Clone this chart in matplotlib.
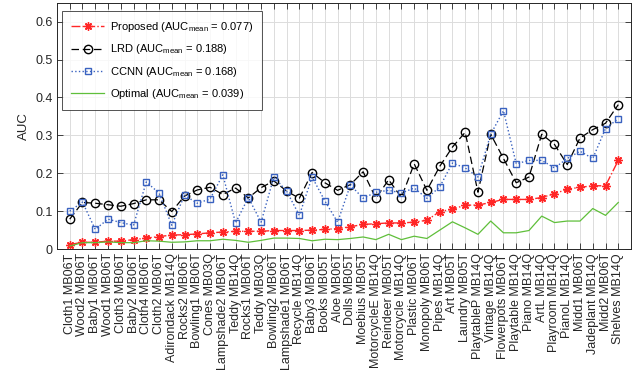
import matplotlib
matplotlib.use("Agg")
import matplotlib.pyplot as plt
import numpy as np

plt.rcParams["font.family"] = ["Liberation Sans", "DejaVu Sans"]
plt.rcParams["mathtext.fontset"] = "custom"
plt.rcParams["mathtext.rm"] = "Liberation Sans"
plt.rcParams["mathtext.it"] = "Liberation Sans"

# categories (x tick labels)
scenes = [
    "Cloth1 MB06T", "Wood2 MB06T", "Baby1 MB06T", "Wood1 MB06T", "Cloth3 MB06T",
    "Baby2 MB06T", "Cloth4 MB06T", "Cloth2 MB06T", "Adirondack MB14Q", "Rocks2 MB06T",
    "Bowling1 MB06T", "Cones MB03Q", "Lampshade2 MB06T", "Teddy MB14Q", "Rocks1 MB06T",
    "Teddy MB03Q", "Bowling2 MB06T", "Lampshade1 MB06T", "Recycle MB14Q", "Baby3 MB06T",
    "Books MB05T", "Aloe MB06T", "Dolls MB05T", "Moebius MB05T", "MotorcycleE MB14Q",
    "Reindeer MB05T", "Motorcycle MB14Q", "Plastic MB06T", "Monopoly MB06T", "Pipes MB14Q",
    "Art MB05T", "Laundry MB05T", "PlaytableP MB14Q", "Vintage MB14Q", "Flowerpots MB06T",
    "Playtable MB14Q", "Piano MB14Q", "ArtL MB14Q", "Playroom MB14Q", "PianoL MB14Q",
    "Midd1 MB06T", "Jadeplant MB14Q", "Midd2 MB06T", "Shelves MB14Q",
]

proposed = [
    0.012, 0.018, 0.018, 0.021, 0.021, 0.025, 0.029, 0.033, 0.037, 0.038,
    0.040, 0.043, 0.045, 0.047, 0.047, 0.047, 0.049, 0.049, 0.049, 0.050,
    0.052, 0.054, 0.059, 0.065, 0.067, 0.069, 0.069, 0.071, 0.076, 0.099,
    0.105, 0.116, 0.116, 0.123, 0.131, 0.131, 0.131, 0.136, 0.146, 0.158,
    0.163, 0.167, 0.167, 0.234,
]
lrd = [
    0.079, 0.123, 0.121, 0.117, 0.113, 0.120, 0.130, 0.130, 0.099, 0.140,
    0.156, 0.163, 0.144, 0.161, 0.135, 0.162, 0.180, 0.153, 0.134, 0.202,
    0.175, 0.155, 0.170, 0.204, 0.134, 0.183, 0.136, 0.225, 0.155, 0.218,
    0.269, 0.308, 0.150, 0.303, 0.239, 0.175, 0.190, 0.303, 0.276, 0.223,
    0.293, 0.315, 0.332, 0.381,
]
ccnn = [
    0.100, 0.124, 0.052, 0.079, 0.070, 0.063, 0.177, 0.148, 0.063, 0.142,
    0.121, 0.132, 0.196, 0.069, 0.136, 0.071, 0.190, 0.153, 0.089, 0.190,
    0.127, 0.071, 0.169, 0.134, 0.150, 0.155, 0.148, 0.161, 0.134, 0.164,
    0.227, 0.214, 0.190, 0.303, 0.365, 0.225, 0.234, 0.234, 0.214, 0.239,
    0.258, 0.239, 0.318, 0.344,
]
optimal = [
    0.008, 0.017, 0.017, 0.019, 0.017, 0.017, 0.022, 0.021, 0.018, 0.019,
    0.022, 0.022, 0.026, 0.023, 0.018, 0.023, 0.029, 0.029, 0.028, 0.022,
    0.026, 0.025, 0.028, 0.032, 0.025, 0.039, 0.025, 0.034, 0.028, 0.050,
    0.072, 0.056, 0.039, 0.074, 0.043, 0.043, 0.049, 0.087, 0.070, 0.074,
    0.074, 0.107, 0.089, 0.123,
]

x = np.arange(1, len(scenes) + 1)

fig = plt.figure(figsize=(6.4, 3.78), dpi=100)
ax = fig.add_axes([0.089, 0.341, 0.897, 0.652])

ax.plot(x, proposed, "-.", color="#ff2626", marker=(8, 2, 0), markersize=6,
        markeredgewidth=1.0, linewidth=1.0,
        label="Proposed (AUC$_{\\mathrm{mean}}$ = 0.077)")
ax.plot(x, lrd, "--", color="black", marker="o", markersize=6,
        markerfacecolor="none", linewidth=0.9, dashes=(6, 3),
        label="LRD (AUC$_{\\mathrm{mean}}$ = 0.188)")
ax.plot(x, ccnn, ":", color="#3a62c0", marker="s", markersize=5,
        markerfacecolor="none", linewidth=1.0,
        label="CCNN (AUC$_{\\mathrm{mean}}$ = 0.168)")
ax.plot(x, optimal, "-", color="#5fbf3a", linewidth=0.9,
        label="Optimal (AUC$_{\\mathrm{mean}}$ = 0.039)")

ax.set_xlim(0, len(scenes) + 1)
ax.set_ylim(0, 0.65)
ax.set_xticks(x)
ax.set_xticklabels(scenes, rotation=90, fontsize=9, color="#262626")
ax.set_yticks(np.arange(0, 0.61, 0.1))
ax.set_yticklabels(["0", "0.1", "0.2", "0.3", "0.4", "0.5", "0.6"],
                   fontsize=9, color="#262626")
ax.set_ylabel("AUC", fontsize=9.5, color="#262626")
ax.tick_params(direction="in", top=True, right=True, length=4,
               width=0.6, color="#262626", pad=3)
ax.grid(True, color="#dcdcdc", linewidth=0.7)
ax.set_axisbelow(True)
for s in ax.spines.values():
    s.set_color("#262626")
    s.set_linewidth(0.7)

leg = ax.legend(loc="upper left", fontsize=8, frameon=True, fancybox=False,
                edgecolor="#262626", handlelength=3.0, handletextpad=0.5,
                borderpad=0.8, borderaxespad=0.0, labelspacing=0.75,
                bbox_to_anchor=(0.009, 0.965))
leg.get_frame().set_linewidth(0.7)

fig.savefig("out.png", dpi=100)
